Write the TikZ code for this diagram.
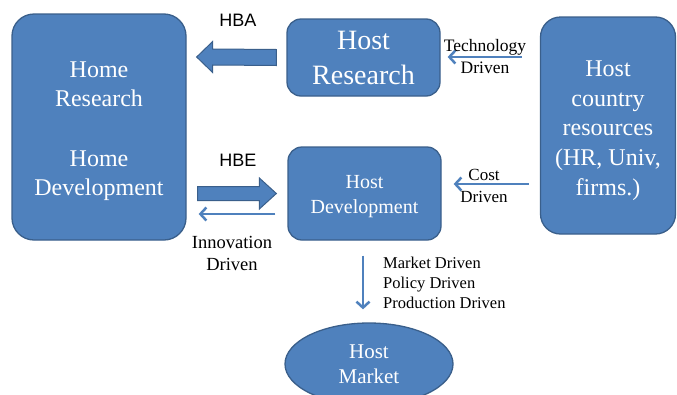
\documentclass[tikz,border=0pt]{standalone}
\usepackage{fontspec}
\setmainfont{Liberation Serif}
\newfontfamily\arialfont{Liberation Sans}
\usetikzlibrary{arrows.meta,calc,shapes.geometric}
\definecolor{boxfill}{HTML}{4F81BD}
\definecolor{boxline}{HTML}{3A5F8B}
\begin{document}
\begin{tikzpicture}[x=1pt,y=1pt,
  box/.style={draw=boxline, fill=boxfill, line width=1.3pt, text=white, align=center, inner sep=0pt},
  blockarrow/.style={draw=boxline, fill=boxfill, line width=1pt, line join=miter},
  thinarrow/.style={draw=boxfill, line width=2.5pt, -{Straight Barb[length=6pt,width=13pt,line width=2.5pt]}},
  lbl/.style={align=center, inner sep=0pt, text=black}
]
\useasboundingbox (0,0) rectangle (677,-394);
% boxes
\node[box, minimum width=174, minimum height=226, rounded corners=22pt,
      font=\fontsize{24}{29}\selectfont] (home) at (99,-127) {\rule{0pt}{24pt}Home\\Research\\[31pt]Home\\Development};
\node[box, minimum width=153, minimum height=77, rounded corners=14pt,
      font=\fontsize{28}{35}\selectfont] (hr) at (363.5,-57.5) {Host\\Research};
\node[box, minimum width=153, minimum height=93, rounded corners=14pt,
      font=\fontsize{20}{25}\selectfont] (hd) at (364.5,-193.5) {\rule{0pt}{19.5pt}Host\\Development};
\node[box, minimum width=135, minimum height=217, rounded corners=20pt,
      font=\fontsize{24}{29.8}\selectfont] (hc) at (608,-125.5) {\rule{0pt}{26pt}Host\\country\\resources\\(HR, Univ,\\firms.)};
\node[box, ellipse, minimum width=168, minimum height=82,
      font=\fontsize{21}{25}\selectfont] (hm) at (369,-364) {Host\\Market};
% HBA block arrow (Host Research -> Home)
\coordinate (hbaTip) at ($(home.east |- hr.west)+(10,0.5)$);
\coordinate (hbaEnd) at ($(hr.west)+(-10,0)$);
\draw[blockarrow] (hbaTip) -- ++(16,15.5) -- ++(0,-7.5) -- ($(hbaEnd)+(0,8)$)
   -- ($(hbaEnd)+(0,-8)$) -- ($(hbaTip)+(16,-8)$) -- ++(0,-7.5) -- cycle;
\node[lbl, font=\arialfont\fontsize{18}{20}\selectfont] (hba) at (238,-20) {HBA};
% HBE block arrow (Home -> Host Development)
\coordinate (hbeStart) at ($(home.east |- hd.west)+(11,0)$);
\coordinate (hbeTip) at ($(hd.west)+(-11,0)$);
\draw[blockarrow] ($(hbeStart)+(0,7)$) -- ($(hbeTip)+(-17,7)$) -- ++(0,8.5) -- (hbeTip)
   -- ($(hbeTip)+(-17,-15.5)$) -- ++(0,8.5) -- ($(hbeStart)+(0,-7)$) -- cycle;
\node[lbl, font=\arialfont\fontsize{18}{20}\selectfont] (hbe) at (238,-160) {HBE};
% thin arrows
\draw[thinarrow] ($(hd.west)+(-12,-20.5)$) -- ($(home.east |- hd.west)+(12,-20.5)$);
\node[lbl, font=\fontsize{18.5}{22}\selectfont] (inn) at (232,-253) {Innovation\\Driven};
\draw[thinarrow] ($(hc.west |- hr.east)+(-18,0.5)$) -- ($(hr.east)+(7,0.5)$);
\node[lbl, font=\fontsize{17.5}{22}\selectfont] (tech) at (485,-57) {Technology\\Driven};
\draw[thinarrow] ($(hc.west |- hd.east)+(-11,9.5)$) -- ($(hd.east)+(12,9.5)$);
\node[lbl, font=\fontsize{17}{22}\selectfont] (cost) at (484,-186) {Cost\\Driven};
\draw[thinarrow] ($(hd.south)+(-1.5,-15)$) -- ($(hm.north -| hd.south)+(-1.5,13)$);
\node[lbl, align=left, anchor=north west, font=\fontsize{16.5}{20}\selectfont] (mkt) at (383,-257)
  {Market Driven\\Policy Driven\\Production Driven};
\end{tikzpicture}
\end{document}
